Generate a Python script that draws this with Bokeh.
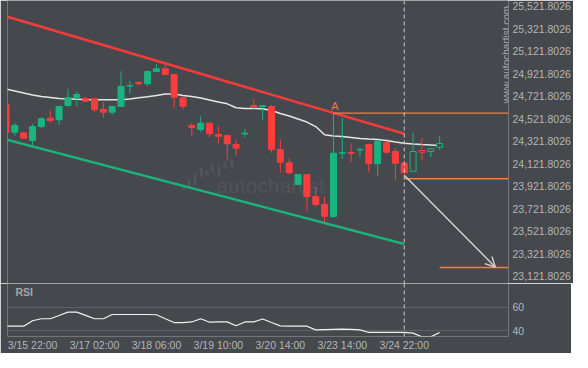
import math
from bokeh.plotting import figure
from bokeh.layouts import column
from bokeh.models import (Range1d, FixedTicker, NumeralTickFormatter, Span, Label,
                          Arrow, OpenHead, ColumnDataSource)
from bokeh.core.properties import value
from bokeh.embed import file_html
from bokeh.resources import INLINE

# ---------------- data ----------------
bar_idx = list(range(50))
opens = [24648, 24402, 24396, 24328, 24452, 24526, 24512, 24639, 24708, 24699,
         24699, 24604, 24580, 24630, 24812, 24844, 24832, 24941, 24965, 24915,
         24708, 24461, 24426, 24482, 24381, 24373, 24293, 24386, 24639, 24630,
         24630, 24248, 24130, 23937, 24026, 23830, 23759, 23653, 24215, 24221,
         24244, 24293, 24121, 24310, 24230, 24126, 24055, 24239, 24230, 24268]
highs = [24657, 24485, 24404, 24477, 24535, 24595, 24635, 24788, 24764, 24713,
         24701, 24669, 24635, 24944, 24861, 24853, 24950, 25010, 25001, 24919,
         24710, 24485, 24541, 24485, 24452, 24377, 24334, 24432, 24699, 24639,
         24642, 24334, 24171, 24030, 24030, 23919, 23830, 24574, 24530, 24304,
         24268, 24301, 24332, 24319, 24257, 24150, 24396, 24348, 24261, 24372]
lows = [24390, 24372, 24341, 24284, 24437, 24485, 24468, 24630, 24633, 24669,
        24580, 24530, 24557, 24626, 24743, 24823, 24811, 24935, 24906, 24615,
        24604, 24366, 24402, 24357, 24299, 24150, 24195, 24357, 24610, 24506,
        24219, 24046, 24026, 23932, 23700, 23741, 23602, 23641, 24165, 24135,
        24180, 24046, 24017, 24212, 23979, 24026, 24052, 24150, 24180, 24245]
closes = [24402, 24461, 24348, 24452, 24521, 24506, 24630, 24708, 24737, 24677,
          24604, 24580, 24630, 24808, 24817, 24832, 24941, 24965, 24915, 24713,
          24633, 24444, 24482, 24388, 24366, 24299, 24260, 24393, 24630, 24637,
          24248, 24135, 24041, 24026, 23830, 23759, 23655, 24215, 24219, 24215,
          24248, 24121, 24322, 24224, 24126, 24041, 24230, 24224, 24254, 24301]
ma_values = [24786, 24768, 24750, 24732, 24719, 24710, 24701, 24699, 24694, 24692,
             24691, 24690, 24690, 24690, 24697, 24708, 24717, 24728, 24741, 24741,
             24728, 24719, 24706, 24688, 24670, 24654, 24619, 24612, 24612, 24611,
             24595, 24568, 24546, 24519, 24492, 24452, 24379, 24368, 24364, 24355,
             24346, 24341, 24337, 24328, 24315, 24304, 24297, 24292, 24288, 24284]
rsi_values = [43.9, 43.9, 43.9, 48.5, 50.2, 50.2, 53.0, 55.8, 55.8, 53.1,
              50.2, 50.2, 53.8, 53.8, 53.8, 53.8, 53.8, 53.6, 50.2, 47.0,
              47.0, 47.5, 50.2, 47.3, 47.5, 47.6, 44.3, 47.5, 47.6, 50.0,
              47.0, 44.2, 44.0, 44.0, 43.9, 40.8, 41.0, 41.2, 41.4, 41.2,
              40.8, 38.6, 38.6, 38.6, 38.6, 38.6, 38.0, 34.9, 34.9, 38.6]
price_ticks = [23121.8026, 23321.8026, 23521.8026, 23721.8026, 23921.8026,
               24121.8026, 24321.8026, 24521.8026, 24721.8026, 24921.8026,
               25121.8026, 25321.8026, 25521.8026]
rsi_levels = [40, 60]
time_tick_idx = [3, 10, 17, 24, 31, 38, 45]
time_tick_labels = ["3/15 22:00", "3/17 02:00", "3/18 06:00", "3/19 10:00",
                    "3/20 14:00", "3/23 14:00", "3/24 22:00"]
resistance_idx = [0, 45]
resistance_price = [25431, 24388]
support_idx = [0, 45]
support_price = [24337, 23409]
level_start_idx = [37, 45, 49]
level_price = [24571, 23988, 23199]
pattern_idx = 45
point_a_idx = [37]
point_a_price = [24571]
arrow_idx = [45, 55.3]
arrow_price = [24020, 23202]
# faint watermark logo (small ascending bars)
logo_idx = [20.06, 20.68, 21.36, 22.09, 22.73, 23.3, 24.05, 24.77, 25.48]
logo_top = [23943, 23981, 24037, 24085, 24061, 24121, 24106, 24135, 24165]
logo_bottom = [23890, 23901, 23928, 24002, 24017, 24046, 24017, 24077, 24091]

# ---------------- style ----------------
BG = "#45484d"
TXT = "#b3b6ba"
GREEN = "#18b57f"
RED = "#fa3d3d"
ORANGE = "#f08040"
FONT = "Liberation Sans"
WM = "#515459"

X_START, X_END = 0.17, 56.78
Y_START, Y_END = 23056.9, 25572.5


def style_axis(ax, standoff):
    ax.axis_line_color = None
    ax.major_tick_line_color = None
    ax.minor_tick_line_color = None
    ax.major_tick_out = 0
    ax.major_tick_in = 0
    ax.major_label_standoff = standoff
    ax.major_label_text_color = TXT
    ax.major_label_text_font = FONT
    ax.major_label_text_font_size = "10.5px"


p = figure(frame_width=501, frame_height=283,
           x_range=Range1d(X_START, X_END), y_range=Range1d(Y_START, Y_END),
           output_backend="svg", toolbar_location=None,
           x_axis_location=None, y_axis_location="right",
           min_border_left=7, min_border_top=0, min_border_bottom=0, min_border_right=63,
           background_fill_color=BG, border_fill_color=BG, outline_line_color=None)
p.grid.visible = False
p.yaxis.ticker = FixedTicker(ticks=price_ticks)
p.yaxis.formatter = NumeralTickFormatter(format="0,0.0000")
style_axis(p.yaxis[0], 4)

# watermark
p.vbar(x=logo_idx, width=0.36, top=logo_top, bottom=logo_bottom,
       fill_color=WM, line_color=None)
p.text(x=[29.9], y=[23928], text=["autochartist"], text_color=WM,
       text_font=value(FONT), text_font_size="21px", text_align="center",
       text_baseline="middle")

# moving average
p.line(bar_idx, ma_values, line_color="#e6e6e6", line_width=1.5)

# channel lines
p.line(resistance_idx, resistance_price, line_color="#f23c3c", line_width=2.6)
p.line(support_idx, support_price, line_color="#1bb37c", line_width=2.6)

# candles
col = [GREEN if c >= o else RED for o, c in zip(opens, closes)]
fill = [BG if i > pattern_idx else c for i, c in zip(bar_idx, col)]
src = ColumnDataSource(dict(
    x=bar_idx, h=highs, l=lows,
    top=[max(o, c) for o, c in zip(opens, closes)],
    bot=[min(o, c) for o, c in zip(opens, closes)],
    col=col, fill=fill))
p.segment(x0="x", y0="l", x1="x", y1="h", line_color="col", line_width=1, source=src)
p.vbar(x="x", width=0.68, top="top", bottom="bot", fill_color="fill",
       line_color="col", line_width=1, source=src)

# level lines
p.segment(x0=level_start_idx, y0=level_price, x1=[X_END] * len(level_price),
          y1=level_price, line_color=ORANGE, line_width=1.3)

p.text(x=point_a_idx, y=point_a_price, text=["A"], text_color="#e0834e",
       text_font=value(FONT), text_font_size="11px", text_align="center",
       text_baseline="bottom", x_offset=1.5, y_offset=-1)

p.add_layout(Span(location=pattern_idx, dimension="height", line_color="#c8c8c8",
                  line_dash="4 3", line_width=1))

p.add_layout(Arrow(end=OpenHead(size=10, line_color="#d6d6d6", line_width=1.3),
                   x_start=arrow_idx[0], y_start=arrow_price[0],
                   x_end=arrow_idx[1], y_end=arrow_price[1],
                   line_color="#d6d6d6", line_width=1.4))

p.add_layout(Label(x=56.5, y=24660, text="www.autochartist.com", angle=math.pi / 2,
                   text_align="left", text_baseline="middle", text_color="#a8abaf",
                   text_font=FONT, text_font_size="10px"))

# ---------------- RSI panel ----------------
r = figure(frame_width=501, frame_height=53,
           x_range=p.x_range, y_range=Range1d(35.17, 80.08),
           output_backend="svg", toolbar_location=None, y_axis_location="right",
           min_border_left=7, min_border_top=0, min_border_bottom=15, min_border_right=63,
           background_fill_color=BG, border_fill_color=BG, outline_line_color=None)
r.xgrid.visible = False
r.ygrid.ticker = FixedTicker(ticks=rsi_levels)
r.ygrid.grid_line_color = "#5e6165"
r.ygrid.grid_line_width = 1
r.yaxis.ticker = FixedTicker(ticks=rsi_levels)
style_axis(r.yaxis[0], 4)
r.xaxis.ticker = FixedTicker(ticks=time_tick_idx)
r.xaxis.major_label_overrides = {i: t for i, t in zip(time_tick_idx, time_tick_labels)}
style_axis(r.xaxis[0], 2)

r.line(bar_idx, rsi_values, line_color="#f2f2f2", line_width=1.2)
r.add_layout(Span(location=pattern_idx, dimension="height", line_color="#c8c8c8",
                  line_dash="4 3", line_width=1))
r.add_layout(Label(x=1.07, y=72.7, text="RSI", text_align="left", text_baseline="middle",
                   text_color="#a3a6ab", text_font=FONT, text_font_size="10.5px",
                   text_font_style="bold"))

layout = column(p, r, spacing=0)
open("out.html", "w").write(file_html(layout, INLINE))
